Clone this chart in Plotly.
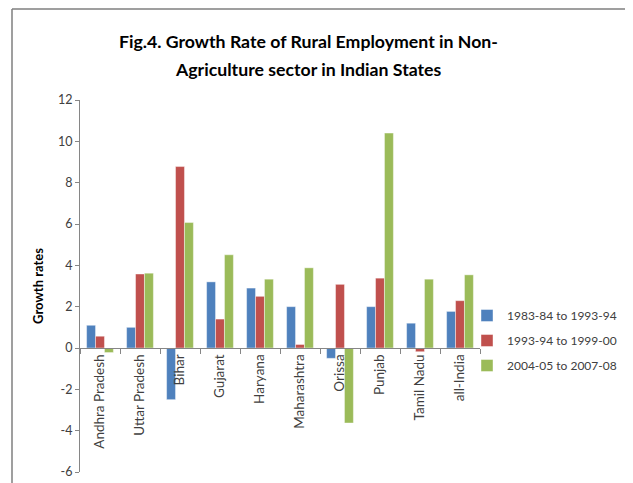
import plotly.graph_objects as go

states = ["Andhra Pradesh", "Uttar Pradesh", "Bihar", "Gujarat", "Haryana",
          "Maharashtra", "Orissa", "Punjab", "Tamil Nadu", "all-India"]
s1_name = "1983-84 to 1993-94"
s1 = [1.1, 1.0, -2.5, 3.2, 2.9, 2.0, -0.5, 2.0, 1.2, 1.77]
s2_name = "1993-94 to 1999-00"
s2 = [0.57, 3.58, 8.78, 1.4, 2.5, 0.17, 3.08, 3.38, -0.18, 2.29]
s3_name = "2004-05 to 2007-08"
s3 = [-0.22, 3.62, 6.07, 4.51, 3.33, 3.88, -3.63, 10.4, 3.33, 3.54]
y_ticks = [-6, -4, -2, 0, 2, 4, 6, 8, 10, 12]
title_lines = ["Fig.4. Growth Rate of Rural Employment in Non-",
               "Agriculture sector in Indian States"]

colors = ["#4F81BD", "#C0504D", "#9BBB59"]
FONT = "Lato, Carlito, sans-serif"

# page body has an 8px margin, so the figure is laid out 8px smaller
W, H = 625, 475
L, R, T, B = 72, 153, 92, 11
PW, PH = W - L - R, H - T - B


def px(x):
    return (x - L) / PW


def py(y):
    return (H - B - y) / PH


fig = go.Figure()
for i, (name, vals) in enumerate([(s1_name, s1), (s2_name, s2), (s3_name, s3)]):
    fig.add_trace(go.Bar(
        x=states, y=vals, name=name, legendgroup=f"g{i}",
        marker=dict(color=colors[i], line=dict(color="rgba(255,255,255,0.7)", width=0.6)),
    ))

fig.update_layout(
    width=W, height=H,
    margin=dict(l=L, r=R, t=T, b=B, autoexpand=False),
    paper_bgcolor="white", plot_bgcolor="white",
    font=dict(family=FONT, size=12, color="#404040"),
    barmode="group", bargap=0.33, bargroupgap=0,
    showlegend=True,
    legend=dict(
        x=px(459), xanchor="left", y=py(293), yanchor="top",
        traceorder="grouped", tracegroupgap=6,
        font=dict(family=FONT, size=12, color="#404040"),
        bgcolor="rgba(0,0,0,0)",
    ),
    xaxis=dict(
        type="category", anchor="free", position=6 / 18, automargin=False,
        showline=True, linecolor="#868686", linewidth=1,
        ticks="outside", ticklen=5, tickcolor="#868686", tickson="boundaries",
        tickangle=-90, tickfont=dict(family=FONT, size=13.5, color="#404040"),
        showgrid=False, zeroline=False,
    ),
    yaxis=dict(
        range=[-6, 12], tickvals=y_ticks, ticktext=[str(v) for v in y_ticks],
        automargin=False,
        showline=True, linecolor="#868686", linewidth=1,
        ticks="outside", ticklen=4, tickcolor="#868686",
        tickfont=dict(family=FONT, size=12.5, color="#404040"),
        showgrid=False, zeroline=False,
        title=dict(text="<b>Growth rates</b>", standoff=11,
                   font=dict(family=FONT, size=13, color="black")),
    ),
)

# two-line title
for line, ycen in zip(title_lines, [34, 61]):
    fig.add_annotation(
        xref="paper", yref="paper", x=px(300), y=py(ycen),
        xanchor="center", yanchor="middle", showarrow=False,
        text=f"<b>{line}</b>", font=dict(family=FONT, size=17.7, color="black"),
    )

# chart-area border (left and top edges; right/bottom run off the image)
fig.add_shape(type="line", xref="paper", yref="paper",
              x0=px(4), x1=px(4), y0=py(H + 5), y1=py(1),
              line=dict(color="#7F7F7F", width=1.5), layer="above")
fig.add_shape(type="line", xref="paper", yref="paper",
              x0=px(4), x1=px(W + 5), y0=py(1), y1=py(1),
              line=dict(color="#7F7F7F", width=1.5), layer="above")

fig.write_html("out.html")
